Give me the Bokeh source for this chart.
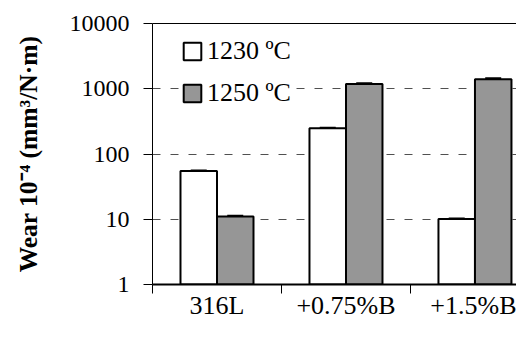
from bokeh.plotting import figure
from bokeh.models import (ColumnDataSource, Range1d, FixedTicker, LinearAxis, Whisker,
                          TeeHead, Legend, LegendItem)
from bokeh.embed import file_html
from bokeh.resources import INLINE

categories = ["316L", "+0.75%B", "+1.5%B"]
series_names = ["1230 ºC", "1250 ºC"]
wear_1230 = [55, 248, 10.1]
wear_1250 = [11, 1180, 1400]
err_1230 = [1.0, 5.0, 0.2]
err_1250 = [0.3, 35.0, 45.0]
y_ticks = [1, 10, 100, 1000, 10000]
y_tick_labels = ["1", "10", "100", "1000", "10000"]

FONT = "Liberation Serif"

p = figure(width=516, height=322, output_backend="svg", toolbar_location=None,
           y_axis_type="log", x_range=Range1d(0, 2.822), y_range=Range1d(1, 10000),
           min_border_left=152, min_border_top=23, min_border_bottom=38, min_border_right=0)
p.outline_line_color = None
p.background_fill_color = "white"
p.border_fill_color = "white"

bar_w = 0.283
centers = [i + 0.5 for i in range(len(categories))]
x1 = [c - bar_w / 2 for c in centers]
x2 = [c + bar_w / 2 for c in centers]

src1 = ColumnDataSource(dict(x=x1, top=wear_1230, lo=[v - e for v, e in zip(wear_1230, err_1230)],
                             hi=[v + e for v, e in zip(wear_1230, err_1230)]))
src2 = ColumnDataSource(dict(x=x2, top=wear_1250, lo=[v - e for v, e in zip(wear_1250, err_1250)],
                             hi=[v + e for v, e in zip(wear_1250, err_1250)]))

r1 = p.vbar(x="x", top="top", bottom=1, width=bar_w, source=src1,
            fill_color="white", line_color="black", line_width=2)
r2 = p.vbar(x="x", top="top", bottom=1, width=bar_w, source=src2,
            fill_color="#969696", line_color="black", line_width=2)

for s in (src1, src2):
    w = Whisker(base="x", upper="hi", lower="lo", source=s, line_color="black", line_width=2,
                upper_head=TeeHead(size=16, line_width=2, line_color="black"),
                lower_head=TeeHead(size=16, line_width=2, line_color="black"))
    p.add_layout(w)

# grid
p.xgrid.visible = False
p.ygrid.ticker = FixedTicker(ticks=y_ticks[1:-1])
p.ygrid.grid_line_color = "#505050"
p.ygrid.grid_line_dash = "8 10"
p.ygrid.grid_line_width = 1

# x axis
xa = p.xaxis[0]
xa.ticker = FixedTicker(ticks=centers, minor_ticks=list(range(len(categories) + 1)))
xa.major_label_overrides = {c: n for c, n in zip(centers, categories)}
xa.major_tick_line_color = None
xa.major_tick_out = 0
xa.major_tick_in = 0
xa.minor_tick_out = 9
xa.minor_tick_in = 0
xa.minor_tick_line_color = "black"
xa.minor_tick_line_width = 1
xa.axis_line_color = "black"
xa.axis_line_width = 2
xa.major_label_text_font = FONT
xa.major_label_text_font_size = "26px"
xa.major_label_text_color = "black"
xa.major_label_standoff = -3

# y axis
ya = p.yaxis[0]
ya.ticker = FixedTicker(ticks=y_ticks)
ya.major_label_overrides = {t: l for t, l in zip(y_ticks, y_tick_labels)}
ya.minor_tick_line_color = None
ya.major_tick_out = 9
ya.major_tick_in = 0
ya.major_tick_line_color = "black"
ya.axis_line_color = "black"
ya.axis_line_width = 1
ya.major_label_text_font = FONT
ya.major_label_text_font_size = "24px"
ya.major_label_text_color = "black"
ya.major_label_standoff = 14
ya.axis_label = "Wear 10⁻⁴ (mm³/N·m)"
ya.axis_label_text_font = FONT
ya.axis_label_text_font_style = "bold"
ya.axis_label_text_font_size = "25.5px"
ya.axis_label_text_color = "black"
ya.axis_label_standoff = 24

# top border line
top = LinearAxis(ticker=FixedTicker(ticks=[]), axis_line_color="black", axis_line_width=1,
                 major_label_text_font_size="0px", major_tick_line_color=None,
                 minor_tick_line_color=None)
p.add_layout(top, "above")

legend = Legend(items=[LegendItem(label=series_names[0], renderers=[r1]),
                       LegendItem(label=series_names[1], renderers=[r2])],
                location=(29, 176), orientation="vertical")
legend.glyph_width = 22
legend.glyph_height = 22
legend.label_height = 28
legend.spacing = 12
legend.padding = 8
legend.margin = 0
legend.label_standoff = 4
legend.label_text_font = FONT
legend.label_text_font_size = "26px"
legend.label_text_color = "black"
legend.border_line_color = None
legend.background_fill_color = "white"
legend.background_fill_alpha = 1
p.add_layout(legend, "center")

open("out.html", "w").write(file_html(p, INLINE))
